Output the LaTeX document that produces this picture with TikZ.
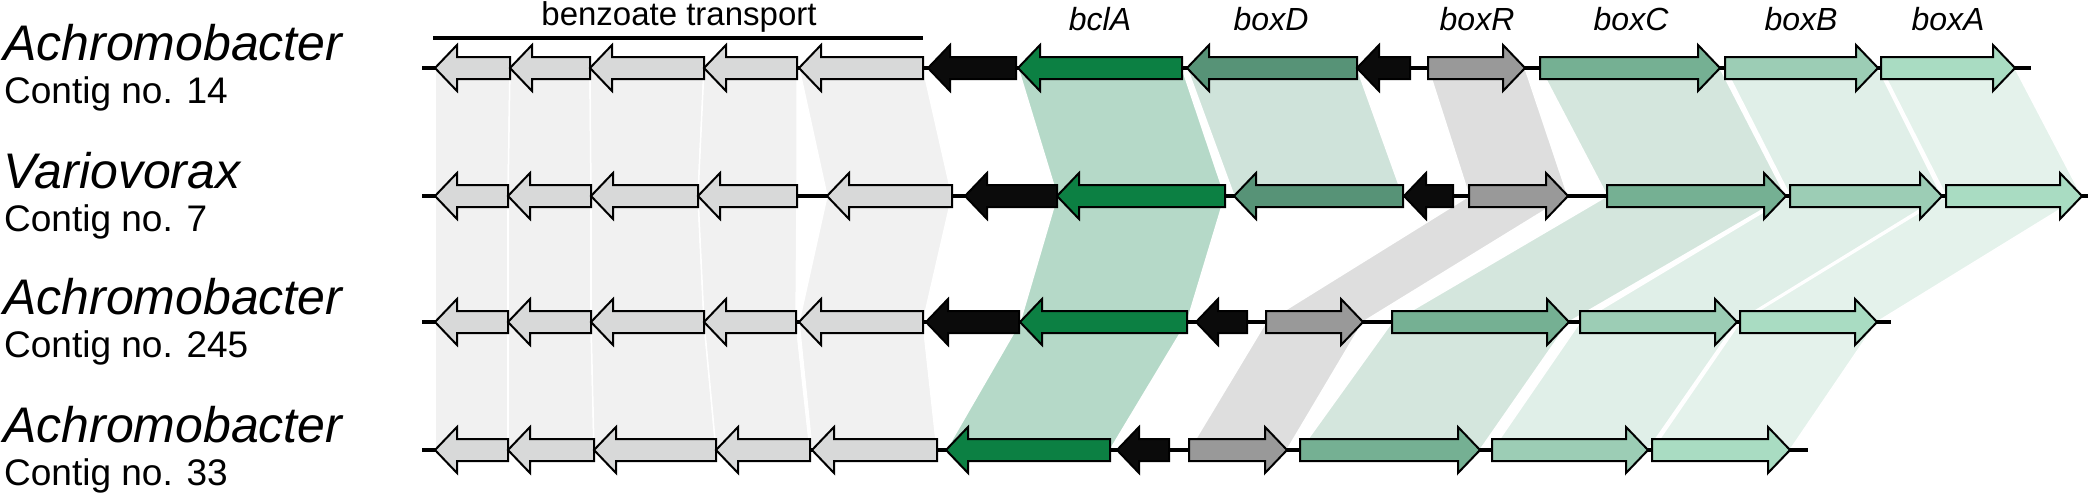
\documentclass[tikz,border=0pt]{standalone}
\usepackage{fontspec}
\setmainfont{Liberation Sans}
\usetikzlibrary{positioning}

\definecolor{transfill}{HTML}{D8D9D9}
\definecolor{transband}{HTML}{F1F1F1}
\definecolor{regfill}{HTML}{0B0B0B}
\definecolor{bclfill}{HTML}{0C8043}
\definecolor{bclband}{HTML}{B5D9C8}
\definecolor{boxDfill}{HTML}{579377}
\definecolor{boxDband}{HTML}{CFE3DA}
\definecolor{boxRfill}{HTML}{999999}
\definecolor{boxRband}{HTML}{DEDEDE}
\definecolor{boxCfill}{HTML}{75B093}
\definecolor{boxCband}{HTML}{D4E6DD}
\definecolor{boxBfill}{HTML}{9CCDB5}
\definecolor{boxBband}{HTML}{E0EFE8}
\definecolor{boxAfill}{HTML}{A9DCC2}
\definecolor{boxAband}{HTML}{E4F2EB}

\tikzset{
x=1pt, y=-1pt, % one unit per pixel of the figure, y runs downwards
gene/.style={draw=black, line width=2pt, line join=miter}, % outline of each gene arrow
band/.style={draw=white, line width=1.5pt}, % homology band between two contigs
backbone/.style={line width=4pt}, % the contig itself
orgname/.style={font=\fontsize{50}{60}\selectfont\itshape, inner sep=0pt, anchor=base west},
contigname/.style={font=\fontsize{37}{44}\selectfont, inner sep=0pt, anchor=base west},
genename/.style={font=\fontsize{32}{38}\selectfont\itshape, inner sep=0pt, anchor=base},
}

% gene pointing left: row y, tip x, end x, fill
\newcommand{\geneL}[4]{\filldraw[gene, fill=#4] (#2,#1) -- (#2+22,#1-23) -- (#2+22,#1-11) -- (#3,#1-11) -- (#3,#1+11) -- (#2+22,#1+11) -- (#2+22,#1+23) -- cycle;}
% gene pointing right: row y, start x, tip x, fill
\newcommand{\geneR}[4]{\filldraw[gene, fill=#4] (#3,#1) -- (#3-22,#1-23) -- (#3-22,#1-11) -- (#2,#1-11) -- (#2,#1+11) -- (#3-22,#1+11) -- (#3-22,#1+23) -- cycle;}
% band: upper y, from, to, lower y, from, to, fill
\newcommand{\band}[7]{\filldraw[band, fill=#7] (#2,#1) -- (#3,#1) -- (#6,#4) -- (#5,#4) -- cycle;}

\begin{document}
\begin{tikzpicture}
\useasboundingbox (0,0) rectangle (2092,498);

% bands, rows 1-2
\band{68}{435}{510}{196}{435}{508}{transband}
\band{68}{510}{590}{196}{508}{591}{transband}
\band{68}{590}{704}{196}{591}{698}{transband}
\band{68}{704}{797}{196}{698}{797}{transband}
\band{68}{799}{923}{196}{827}{952}{transband}
\band{68}{1018}{1182}{196}{1057}{1225}{bclband}
\band{68}{1187}{1357}{196}{1234}{1403}{boxDband}
\band{68}{1428}{1525}{196}{1469}{1568}{boxRband}
\band{68}{1540}{1720}{196}{1607}{1786}{boxCband}
\band{68}{1725}{1878}{196}{1790}{1942}{boxBband}
\band{68}{1881}{2015}{196}{1946}{2082}{boxAband}
% bands, rows 2-3
\band{196}{435}{508}{322}{435}{508}{transband}
\band{196}{508}{591}{322}{508}{591}{transband}
\band{196}{591}{698}{322}{591}{704}{transband}
\band{196}{698}{797}{322}{704}{796}{transband}
\band{196}{827}{952}{322}{799}{923}{transband}
\band{196}{1057}{1225}{322}{1020}{1187}{bclband}
\band{196}{1469}{1568}{322}{1266}{1363}{boxRband}
\band{196}{1607}{1786}{322}{1392}{1569}{boxCband}
\band{196}{1790}{1942}{322}{1580}{1737}{boxBband}
\band{196}{1946}{2082}{322}{1740}{1877}{boxAband}
% bands, rows 3-4
\band{322}{435}{508}{450}{435}{508}{transband}
\band{322}{508}{591}{450}{508}{594}{transband}
\band{322}{591}{704}{450}{594}{716}{transband}
\band{322}{704}{796}{450}{716}{810}{transband}
\band{322}{799}{923}{450}{812}{937}{transband}
\band{322}{1020}{1187}{450}{946}{1110}{bclband}
\band{322}{1266}{1363}{450}{1189}{1287}{boxRband}
\band{322}{1392}{1569}{450}{1300}{1480}{boxCband}
\band{322}{1580}{1737}{450}{1492}{1648}{boxBband}
\band{322}{1740}{1877}{450}{1652}{1790}{boxAband}

% contigs
\draw[backbone] (422,68) -- (2031,68);
\draw[backbone] (422,196) -- (2088,196);
\draw[backbone] (422,322) -- (1891,322);
\draw[backbone] (422,450) -- (1808,450);

% Achromobacter contig no. 14
\geneL{68}{435}{510}{transfill}
\geneL{68}{510}{590}{transfill}
\geneL{68}{590}{704}{transfill}
\geneL{68}{704}{797}{transfill}
\geneL{68}{799}{923}{transfill}
\geneL{68}{928}{1016}{regfill}
\geneL{68}{1018}{1182}{bclfill}
\geneL{68}{1187}{1357}{boxDfill}
\geneL{68}{1357}{1410}{regfill}
\geneR{68}{1428}{1525}{boxRfill}
\geneR{68}{1540}{1720}{boxCfill}
\geneR{68}{1725}{1878}{boxBfill}
\geneR{68}{1881}{2015}{boxAfill}

% Variovorax contig no. 7
\geneL{196}{435}{508}{transfill}
\geneL{196}{508}{591}{transfill}
\geneL{196}{591}{698}{transfill}
\geneL{196}{698}{797}{transfill}
\geneL{196}{827}{952}{transfill}
\geneL{196}{965}{1057}{regfill}
\geneL{196}{1057}{1225}{bclfill}
\geneL{196}{1234}{1403}{boxDfill}
\geneL{196}{1404}{1453}{regfill}
\geneR{196}{1469}{1568}{boxRfill}
\geneR{196}{1607}{1786}{boxCfill}
\geneR{196}{1790}{1942}{boxBfill}
\geneR{196}{1946}{2082}{boxAfill}

% Achromobacter contig no. 245
\geneL{322}{435}{508}{transfill}
\geneL{322}{508}{591}{transfill}
\geneL{322}{591}{704}{transfill}
\geneL{322}{704}{796}{transfill}
\geneL{322}{799}{923}{transfill}
\geneL{322}{926}{1019}{regfill}
\geneL{322}{1020}{1187}{bclfill}
\geneL{322}{1196}{1247}{regfill}
\geneR{322}{1266}{1363}{boxRfill}
\geneR{322}{1392}{1569}{boxCfill}
\geneR{322}{1580}{1737}{boxBfill}
\geneR{322}{1740}{1877}{boxAfill}

% Achromobacter contig no. 33
\geneL{450}{435}{508}{transfill}
\geneL{450}{508}{594}{transfill}
\geneL{450}{594}{716}{transfill}
\geneL{450}{716}{810}{transfill}
\geneL{450}{812}{937}{transfill}
\geneL{450}{946}{1110}{bclfill}
\geneL{450}{1117}{1169}{regfill}
\geneR{450}{1189}{1287}{boxRfill}
\geneR{450}{1300}{1480}{boxCfill}
\geneR{450}{1492}{1648}{boxBfill}
\geneR{450}{1652}{1790}{boxAfill}

% organism labels
\node[orgname] (org1) at (3,60) {Achromobacter};
\node[contigname] (ctg1) at (4,103) {Contig no. 14};
\node[orgname] (org2) at (3,188) {Variovorax};
\node[contigname] (ctg2) at (4,231) {Contig no. 7};
\node[orgname] (org3) at (3,314) {Achromobacter};
\node[contigname] (ctg3) at (4,357) {Contig no. 245};
\node[orgname] (org4) at (3,442) {Achromobacter};
\node[contigname] (ctg4) at (4,485) {Contig no. 33};

% gene labels
\node[genename, font=\fontsize{33}{40}\selectfont] (transport) at (679,25) {benzoate transport};
\draw[line width=4pt] (433,38) -- (923,38);
\node[genename] (bclA) at (1100,30) {bclA};
\node[genename] (boxD) at (1271,30) {boxD};
\node[genename] (boxR) at (1477,30) {boxR};
\node[genename] (boxC) at (1631,30) {boxC};
\node[genename] (boxB) at (1801,30) {boxB};
\node[genename] (boxA) at (1948,30) {boxA};
\end{tikzpicture}
\end{document}
